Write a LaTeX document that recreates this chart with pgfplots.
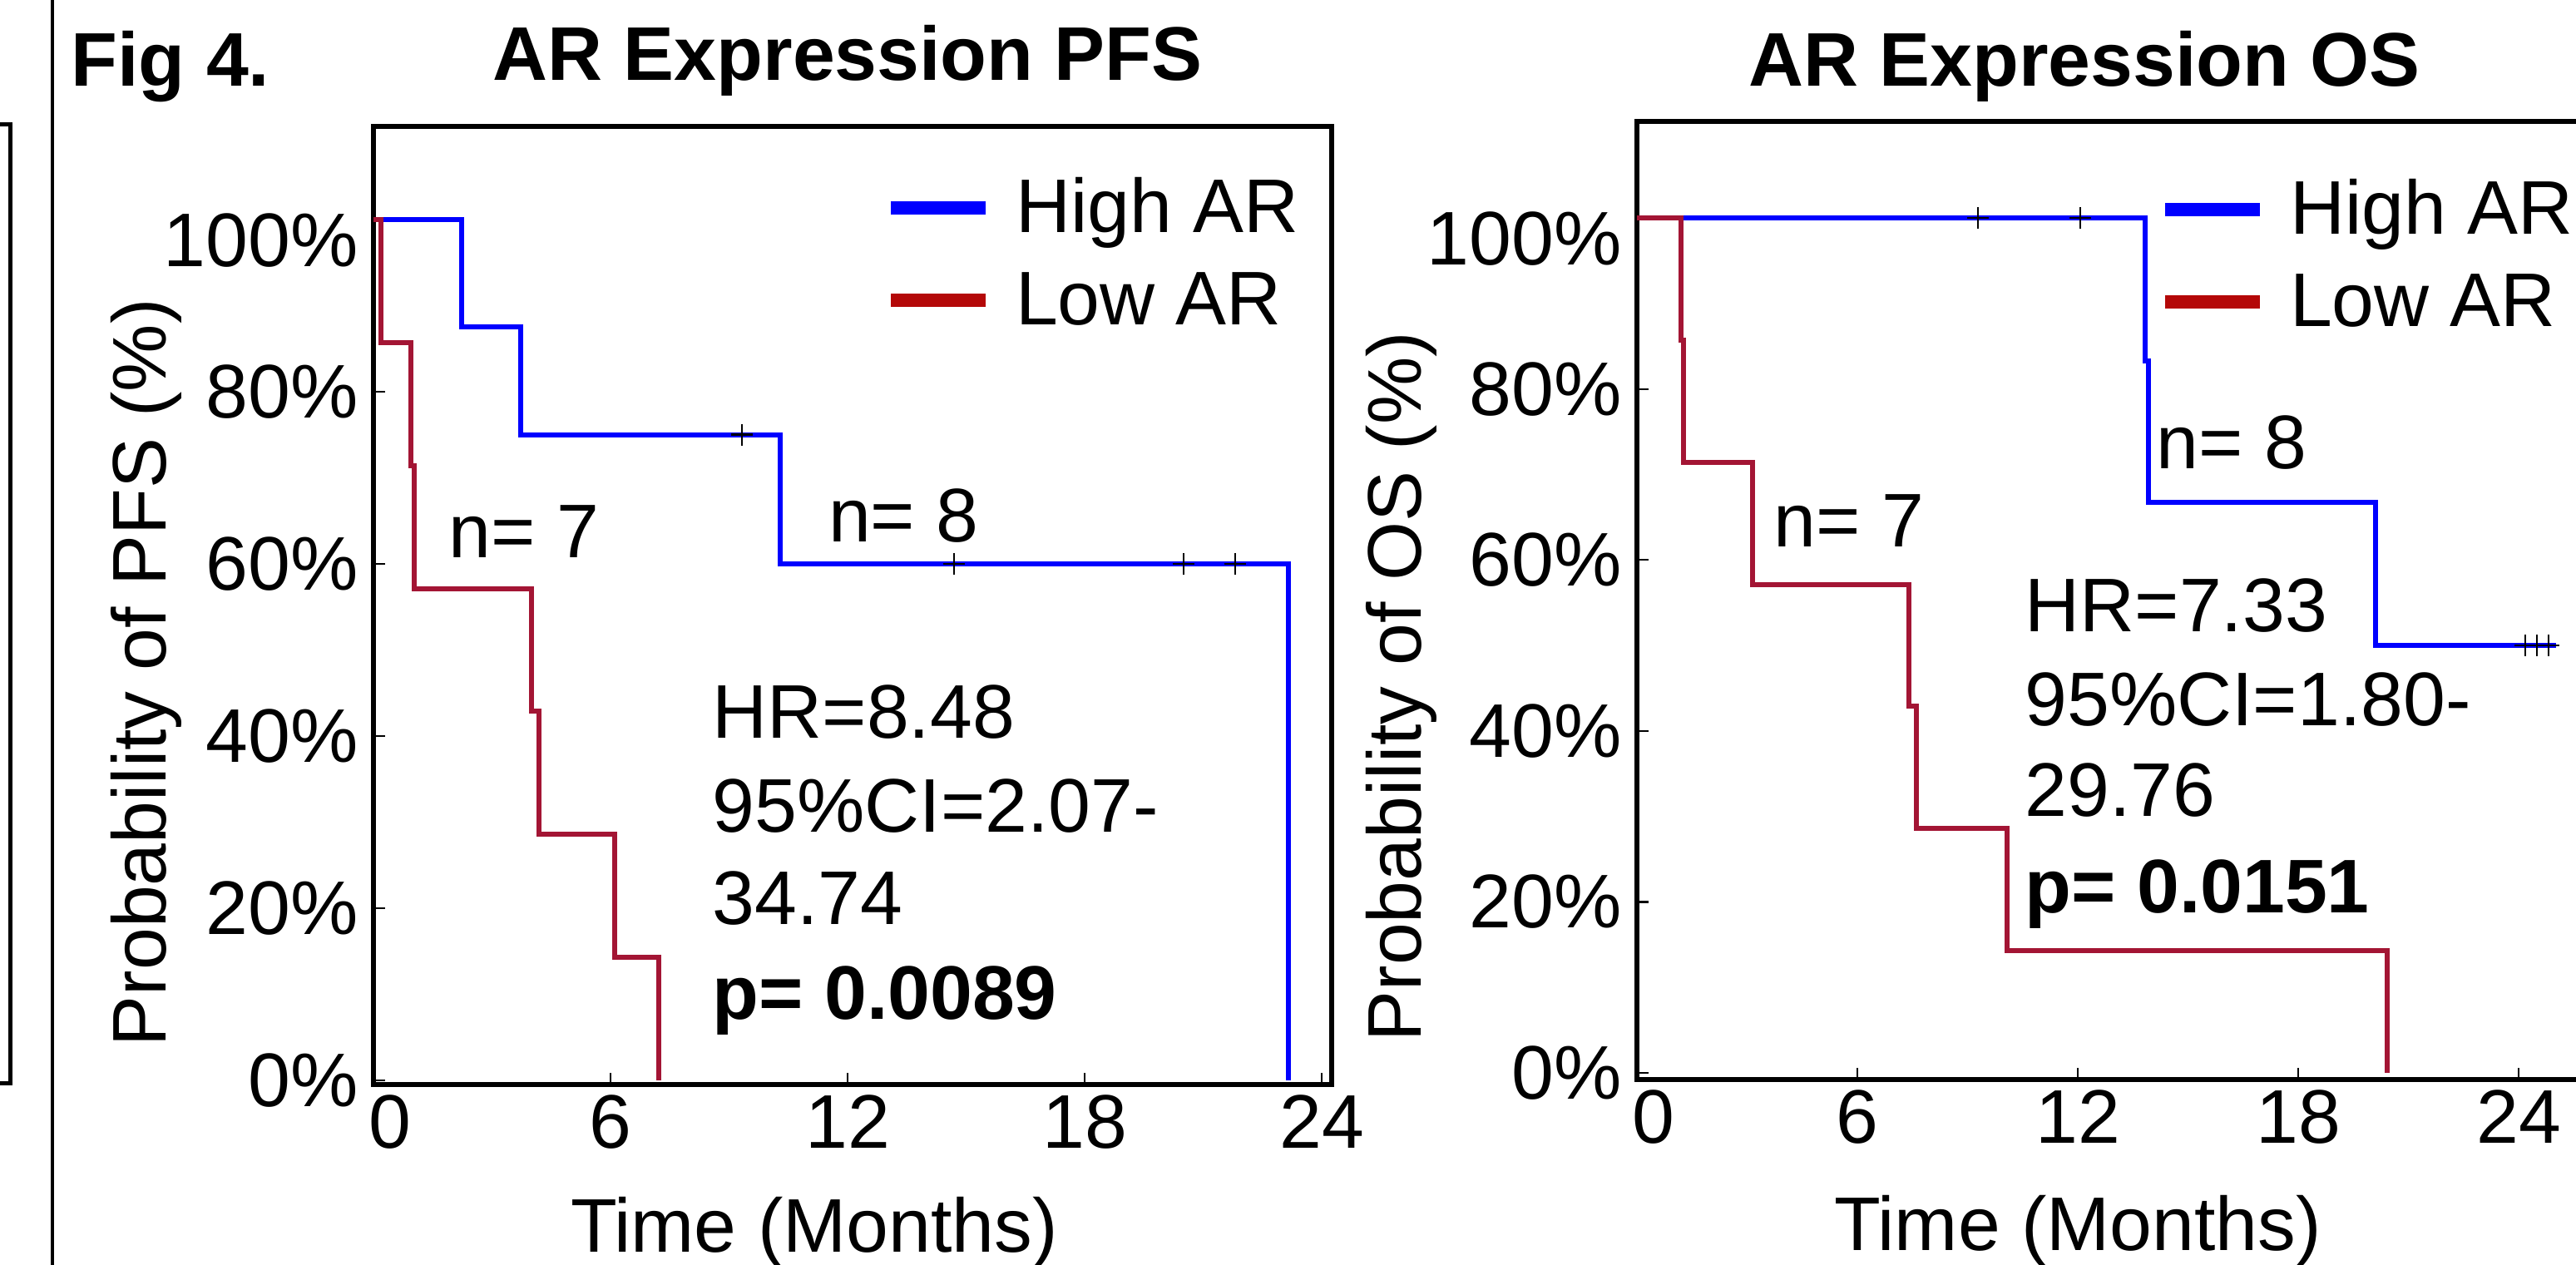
\documentclass[border=0pt]{standalone}
\usepackage{fontspec}
\setmainfont{Liberation Sans}
\usepackage{pgfplots}
\pgfplotsset{compat=1.18}

\definecolor{kmblue}{RGB}{0,0,255}
\definecolor{kmred}{RGB}{163,21,52}
\definecolor{legred}{RGB}{180,8,8}

\pgfplotsset{
  kmaxis/.style={
    scale only axis, width=115.2mm, height=115.2mm,
    axis line style={line width=0.65mm},
    tick style={black, line width=0.22mm},
    major tick length=1.4mm,
    xtick pos=bottom, ytick pos=left,
    xtick={6,12,18,24}, xticklabels={6,12,18,24},
    extra x ticks={0}, extra x tick labels={0},
    extra x tick style={xticklabel style={xshift=2mm}},
    ytick={0,20,40,60,80}, yticklabels={0\%,20\%,40\%,60\%,80\%},
    extra y ticks={100}, extra y tick labels={100\%},
    extra y tick style={yticklabel style={yshift=-2.5mm}},
    yticklabel style={inner xsep=1.8mm},
    xlabel={Time (Months)},
    title style={font=\bfseries\fontsize{26}{31}\selectfont, anchor=base, inner sep=0pt},
    xlabel style={anchor=base, inner sep=0pt, text depth=0pt},
    ylabel style={anchor=base, inner sep=0pt},
    legend style={draw=none, fill=none, inner sep=0pt, outer sep=0pt, anchor=north west,
      row sep=1.9mm, cells={anchor=west},
      nodes={inner sep=0pt, text height=6.9mm, text depth=2.3mm},
      /tikz/every odd column/.append style={column sep=2.8mm}},
    legend image code/.code={\draw[#1, line width=1.6mm] (0mm,0.7mm) -- (11.4mm,0.7mm);},
  },
  km/.style={const plot, line width=0.6mm, no marks},
  cens/.style={only marks, mark=+, mark size=1.3mm, black, mark options={line width=0.22mm}, forget plot},
}

\begin{document}
\begin{tikzpicture}[font=\fontsize{26}{31}\selectfont, trim left=0mm, trim right=309.7mm]
\path (0mm,0mm) rectangle (309.7mm,152mm);

% frame pieces of the neighbouring panel
\draw[overlay, line width=0.45mm] (6.3mm,-1mm) -- (6.3mm,153mm);
\draw[overlay, line width=0.5mm] (-1mm,137mm) -- (1.25mm,137mm) -- (1.25mm,21.8mm) -- (-1mm,21.8mm);
\node[anchor=base west, inner sep=0pt, font=\bfseries\fontsize{26}{31}\selectfont] at (8.5mm,141.6mm) {Fig 4.};

% PFS
\begin{axis}[kmaxis,
  at={(44.9mm,21.6mm)}, anchor=south west,
  xmin=0, xmax=24.25, ymin=-0.5, ymax=110.8,
  title={AR Expression PFS},
  title style={at={(axis description cs:0.495,1.0295)}},
  ylabel={Probability of PFS (\%)},
  ylabel style={at={(axis description cs:-0.217,0.43)}},
  xlabel style={at={(axis description cs:0.46,-0.175)}},
  legend style={at={(axis description cs:0.533,0.9488)}},
]
\addlegendimage{kmblue}
\addlegendimage{legred}
\addplot[km, kmblue] coordinates {(0,100)(2.23,87.5)(3.73,75)(10.3,60)(23.15,0)};
\addplot[km, kmred] coordinates {(0,100)(0.19,85.7)(0.95,71.4)(1.03,57.1)(4.01,42.9)(4.18,28.6)(6.10,14.3)(7.22,0)};
\addplot[cens] coordinates {(9.33,75)(14.7,60)(20.5,60)(21.8,60)};
\legend{High AR, Low AR}
\node[anchor=base west, inner sep=0pt] at (axis cs:1.9,60.7) {n= 7};
\node[anchor=base west, inner sep=0pt] at (axis cs:11.5,62.5) {n= 8};
\node[anchor=base west, inner sep=0pt] at (axis cs:8.57,39.7) {HR=8.48};
\node[anchor=base west, inner sep=0pt] at (axis cs:8.57,28.8) {95\%CI=2.07-};
\node[anchor=base west, inner sep=0pt] at (axis cs:8.57,18.1) {34.74};
\node[anchor=base west, inner sep=0pt] at (axis cs:8.57,7.05) {\textbf{p= 0.0089}};
\end{axis}

% OS
\begin{axis}[kmaxis,
  at={(196.8mm,22.2mm)}, anchor=south west,
  xmin=0, xmax=26.08, ymin=-0.78, ymax=111.3,
  title={AR Expression OS},
  title style={at={(axis description cs:0.467,1.019)}},
  ylabel={Probability of OS (\%)},
  ylabel style={at={(axis description cs:-0.2257,0.41)}},
  xlabel style={at={(axis description cs:0.46,-0.178)}},
  legend style={at={(axis description cs:0.5443,0.942)}},
]
\addlegendimage{kmblue}
\addlegendimage{legred}
\addplot[km, kmblue] coordinates {(0,100)(13.84,83.3)(13.92,66.7)(20.1,50)(25.02,50)};
\addplot[km, kmred] coordinates {(0,100)(1.2,85.7)(1.27,71.4)(3.15,57.1)(7.41,42.9)(7.61,28.6)(10.08,14.3)(20.42,0)};
\addplot[cens] coordinates {(9.28,100)(12.07,100)(24.18,50)(24.5,50)(24.82,50)};
\legend{High AR, Low AR}
\node[anchor=base west, inner sep=0pt] at (axis cs:3.71,61.5) {n= 7};
\node[anchor=base west, inner sep=0pt] at (axis cs:14.13,70.66) {n= 8};
\node[anchor=base west, inner sep=0pt] at (axis cs:10.55,51.6) {HR=7.33};
\node[anchor=base west, inner sep=0pt] at (axis cs:10.55,40.6) {95\%CI=1.80-};
\node[anchor=base west, inner sep=0pt] at (axis cs:10.55,30.0) {29.76};
\node[anchor=base west, inner sep=0pt] at (axis cs:10.55,18.7) {\textbf{p= 0.0151}};
\end{axis}
\end{tikzpicture}
\end{document}
